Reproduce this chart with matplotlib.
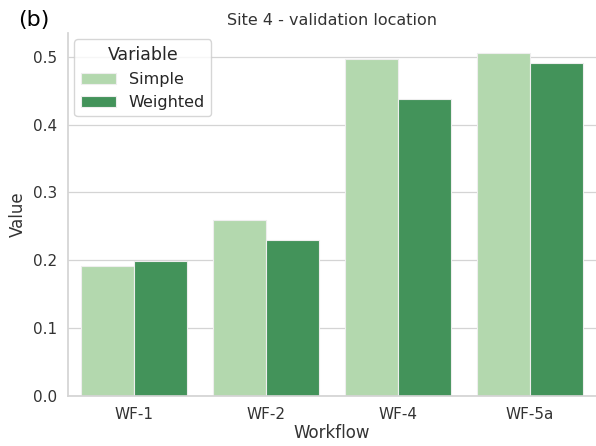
import numpy as np
import matplotlib
matplotlib.use("Agg")
import matplotlib.pyplot as plt
import seaborn as sns

workflows = ["WF-1", "WF-2", "WF-4", "WF-5a"]
variables = ["Simple", "Weighted"]
simple = [0.191, 0.259, 0.497, 0.506]
weighted = [0.199, 0.230, 0.438, 0.491]
colors = ["#b3d8ae", "#43935a"]

sns.set_theme(style="whitegrid")
plt.rcParams['font.family'] = ['DejaVu Sans']

fig = plt.figure(figsize=(5.96, 4.46), dpi=100)
ax = fig.add_axes([0.114, 0.112, 0.886, 0.814])

x = np.arange(len(workflows))
w = 0.4
for i, (vals, name) in enumerate(zip([simple, weighted], variables)):
    ax.bar(x + (i - 0.5) * w, vals, width=w, color=colors[i], label=name,
           edgecolor="#eeeeee", linewidth=0.8, zorder=2)

ax.set_xticks(x)
ax.set_xticklabels(workflows)
ax.set_xlim(-0.5, 3.5)
ax.set_ylim(0, 0.535)
ax.set_yticks([0.0, 0.1, 0.2, 0.3, 0.4, 0.5])
ax.tick_params(axis="both", labelsize=11, colors="#333333", pad=2)
ax.set_xlabel("Workflow", fontsize=12, color="#333333", labelpad=1)
ax.set_ylabel("Value", fontsize=12, color="#333333")
ax.set_title("Site 4 - validation location", fontsize=11.5, color="#333333")
ax.grid(axis="x", visible=False)
ax.grid(axis="y", color="#d4d4d4", linewidth=0.9)
sns.despine(ax=ax)
for s in ["left", "bottom"]:
    ax.spines[s].set_color("#d4d4d4")

leg = ax.legend(title="Variable", loc="upper left", fontsize=11.5,
                title_fontsize=12.5, frameon=True, handlelength=2.2,
                borderaxespad=0.4)
fig.text(0.03, 0.955, "(b)", fontsize=16, va="center", color="black")

fig.savefig("out.png", dpi=100)
